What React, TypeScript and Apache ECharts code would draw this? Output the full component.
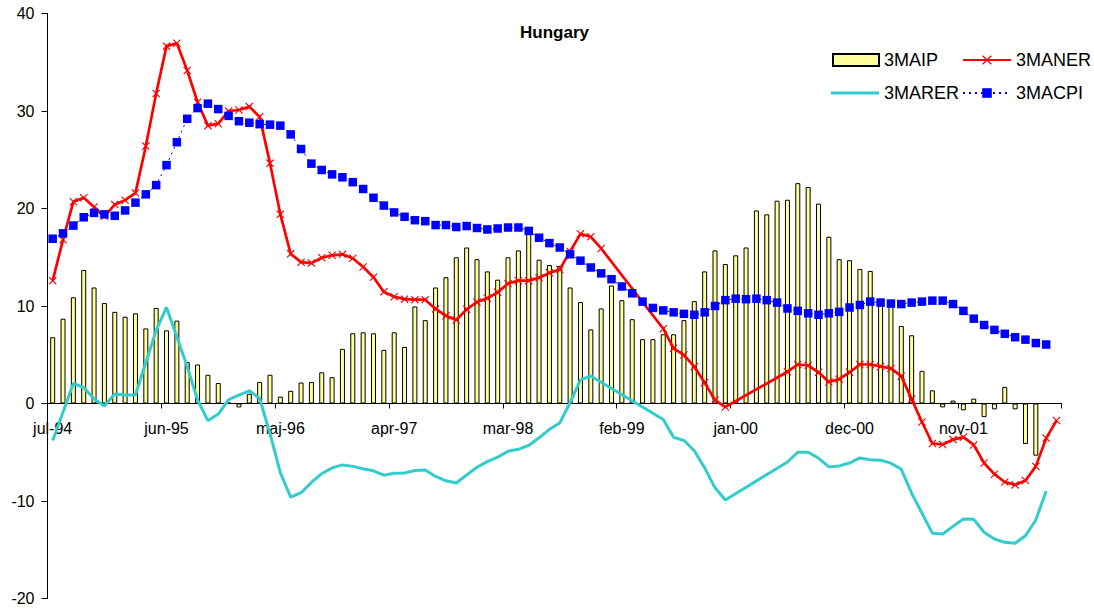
import React, { useEffect, useRef } from 'react';
import * as echarts from 'echarts';

const categories = [
  'jul-94', 'aug-94', 'sep-94', 'okt-94', 'nov-94', 'dec-94',
  'jan-95', 'feb-95', 'mar-95', 'apr-95', 'maj-95', 'jun-95', 'jul-95', 'aug-95', 'sep-95', 'okt-95', 'nov-95', 'dec-95',
  'jan-96', 'feb-96', 'mar-96', 'apr-96', 'maj-96', 'jun-96', 'jul-96', 'aug-96', 'sep-96', 'okt-96', 'nov-96', 'dec-96',
  'jan-97', 'feb-97', 'mar-97', 'apr-97', 'maj-97', 'jun-97', 'jul-97', 'aug-97', 'sep-97', 'okt-97', 'nov-97', 'dec-97',
  'jan-98', 'feb-98', 'mar-98', 'apr-98', 'maj-98', 'jun-98', 'jul-98', 'aug-98', 'sep-98', 'okt-98', 'nov-98', 'dec-98',
  'jan-99', 'feb-99', 'mar-99', 'apr-99', 'maj-99', 'jun-99', 'jul-99', 'aug-99', 'sep-99', 'okt-99', 'nov-99', 'dec-99',
  'jan-00', 'feb-00', 'mar-00', 'apr-00', 'maj-00', 'jun-00', 'jul-00', 'aug-00', 'sep-00', 'okt-00', 'nov-00', 'dec-00',
  'jan-01', 'feb-01', 'mar-01', 'apr-01', 'maj-01', 'jun-01', 'jul-01', 'aug-01', 'sep-01', 'okt-01', 'nov-01', 'dec-01',
  'jan-02', 'feb-02', 'mar-02', 'apr-02', 'maj-02', 'jun-02', 'jul-02', 'aug-02',
];

const ip = [
  6.8, 8.7, 10.9, 13.7, 11.9, 10.3, 9.4, 8.9, 9.25, 7.7,
  9.8, 7.5, 8.5, 4.25, 4.0, 2.95, 2.1, 0.1, -0.4, 1.0,
  2.2, 2.95, 0.7, 1.3, 2.15, 2.2, 3.2, 2.7, 5.6, 7.2,
  7.3, 7.2, 5.5, 7.3, 5.8, 9.95, 8.55, 11.9, 12.95, 15.0,
  16.0, 14.8, 13.55, 12.7, 15.0, 15.7, 17.4, 14.75, 14.2, 14.1,
  11.9, 10.4, 7.6, 9.75, 12.1, 10.6, 8.65, 6.6, 6.6, 7.1,
  7.1, 8.55, 10.5, 13.55, 15.7, 14.3, 15.2, 16.0, 19.8, 19.4,
  20.8, 20.9, 22.6, 22.2, 20.5, 17.1, 14.8, 14.7, 13.8, 13.6,
  10.6, 10.3, 7.95, 7.0, 3.35, 1.35, -0.4, 0.3, -0.7, 0.5,
  -1.4, -0.6, 1.7, -0.6, -4.15, -5.35, null, null,
];

const ner = [
  12.6, 16.8, 20.7, 21.1, 20.15, 19.2, 20.4, 20.85, 21.6, 26.4,
  31.8, 36.65, 36.95, 34.15, 30.9, 28.5, 28.7, 30.0, 30.1, 30.45,
  29.4, 24.65, 19.4, 15.35, 14.5, 14.4, 14.95, 15.2, 15.3, 14.9,
  14.0, 12.95, 11.45, 10.95, 10.7, 10.65, 10.65, 9.7, 9.0, 8.56,
  9.66, 10.4, 10.8, 11.4, 12.3, 12.6, 12.6, 12.9, 13.4, 13.75,
  15.6, 17.4, 17.1, 15.9, null, null, null, null, null, 7.67,
  5.66, 4.97, 3.78, 2.14, 0.35, -0.36, null, null, null, null,
  null, 3.26, 4.0, 3.9, 3.2, 2.2, 2.5, 3.2, 4.0, 4.0,
  3.8, 3.6, 2.8, 0.45, -1.9, -4.1, -4.2, -3.7, -3.45, -4.25,
  -6.1, -7.25, -8.05, -8.35, -7.9, -6.45, -3.55, -1.75,
];

const rer = [
  -3.8, -0.9, 2.05, 1.65, 0.45, -0.26, 0.97, 0.87, 0.87, 4.2,
  7.5, 9.85, 6.85, 3.8, 0.36, -1.76, -1.08, 0.4, 0.87, 1.3,
  0.53, -3.1, -7.1, -9.6, -9.15, -8.1, -7.2, -6.6, -6.3, -6.45,
  -6.7, -6.9, -7.35, -7.16, -7.13, -6.88, -6.83, -7.48, -7.93, -8.15,
  -7.33, -6.54, -5.96, -5.5, -4.9, -4.7, -4.3, -3.52, -2.65, -2.0,
  0.1, 2.42, 2.82, null, null, null, null, null, null, -1.65,
  -3.47, -3.8, -4.85, -6.6, -8.65, -9.9, null, null, null, null,
  null, -6.0, -5.0, -5.0, -5.6, -6.5, -6.4, -6.1, -5.58, -5.76,
  -5.82, -6.12, -6.75, -9.2, -11.26, -13.3, -13.38, -12.6, -11.85, -11.88,
  -13.2, -13.9, -14.24, -14.34, -13.56, -11.95, -8.97, null,
];

const cpi = [
  16.9, 17.45, 18.25, 19.1, 19.55, 19.4, 19.25, 19.8, 20.6, 21.45,
  22.4, 24.45, 26.8, 29.2, 30.3, 30.75, 30.2, 29.5, 28.95, 28.8,
  28.65, 28.6, 28.5, 27.6, 26.1, 24.6, 23.95, 23.5, 23.2, 22.7,
  22.0, 21.1, 20.3, 19.6, 19.15, 18.8, 18.7, 18.3, 18.3, 18.1,
  18.2, 18.0, 17.85, 17.95, 18.05, 18.05, 17.7, 17.0, 16.45, 16.0,
  15.3, 14.65, 13.95, 13.35, 12.75, 12.0, 11.3, 10.45, 9.8, 9.55,
  9.35, 9.2, 9.1, 9.35, 10.0, 10.6, 10.75, 10.7, 10.75, 10.6,
  10.35, 9.75, 9.5, 9.25, 9.1, 9.25, 9.4, 9.85, 10.1, 10.45,
  10.35, 10.25, 10.2, 10.35, 10.45, 10.55, 10.55, 10.2, 9.5, 8.7,
  8.05, 7.55, 7.15, 6.8, 6.55, 6.2, 6.05, null,
];

const FONT = 'Liberation Sans, Arial, sans-serif';
const X_SYMBOL = 'path://M0,1L1,0L5,4L9,0L10,1L6,5L10,9L9,10L5,6L1,10L0,9L4,5Z';

// grid geometry (px)
const GRID_TOP = 13.5;
const GRID_BOTTOM = 15.5;
const CHART_H = 614;
const Y_MIN = -20;
const Y_MAX = 40;

export default function App() {
  const ref = useRef<HTMLDivElement>(null);

  useEffect(() => {
    if (!ref.current) return;
    const chart = echarts.init(ref.current, null, { renderer: 'svg' });
    const legendText = { fontFamily: FONT, fontSize: 18, color: '#000' };
    const plotH = CHART_H - GRID_TOP - GRID_BOTTOM;
    const zeroOffset = -(plotH * (0 - Y_MIN)) / (Y_MAX - Y_MIN);
    chart.setOption({
      animation: false,
      backgroundColor: '#ffffff',
      title: {
        text: 'Hungary',
        left: 520,
        top: 24,
        padding: 0,
        textStyle: { fontFamily: FONT, fontSize: 17, fontWeight: 'bold', color: '#000' },
      },
      legend: [
        { data: ['3MAIP'], left: 832, top: 51, padding: 0, itemWidth: 46, itemHeight: 12, icon: 'rect', textStyle: legendText },
        { data: ['3MANER'], left: 962, top: 51, padding: 0, itemWidth: 48, itemHeight: 12, textStyle: legendText },
        {
          data: ['3MARER'], left: 831, top: 84, padding: 0, itemWidth: 48, itemHeight: 3, icon: 'rect',
          itemStyle: { color: '#33CCCC' }, textStyle: legendText,
        },
        { data: ['3MACPI'], left: 962, top: 84, padding: 0, itemWidth: 48, itemHeight: 12, textStyle: legendText },
      ],
      grid: { left: 47.5, right: 32.3, top: GRID_TOP, bottom: GRID_BOTTOM, containLabel: false, outerBoundsMode: 'none' },
      xAxis: {
        type: 'category',
        data: categories,
        boundaryGap: true,
        position: 'bottom',
        offset: zeroOffset,
        axisLine: { onZero: false, lineStyle: { color: '#000', width: 1 } },
        axisTick: { show: true, interval: 10, length: 5, lineStyle: { color: '#000' } },
        axisLabel: { interval: 10, margin: 17, fontFamily: FONT, fontSize: 16, color: '#000' },
        splitLine: { show: false },
      },
      yAxis: {
        type: 'value',
        min: Y_MIN,
        max: Y_MAX,
        interval: 10,
        axisLine: { show: true, lineStyle: { color: '#000', width: 1 } },
        axisTick: { show: true, length: 6, lineStyle: { color: '#000' } },
        axisLabel: { margin: 13, fontFamily: FONT, fontSize: 16, color: '#000' },
        splitLine: { show: false },
      },
      series: [
        {
          name: '3MAIP',
          type: 'bar',
          data: ip,
          barWidth: 5,
          itemStyle: { color: '#FFFF99', borderColor: '#000000', borderWidth: 1 },
        },
        {
          name: '3MANER',
          type: 'line',
          data: ner,
          connectNulls: true,
          color: '#FF0000',
          symbol: X_SYMBOL,
          symbolSize: 8,
          showAllSymbol: true,
          itemStyle: { color: '#FF0000' },
          lineStyle: { color: '#FF0000', width: 2.7 },
        },
        {
          name: '3MARER',
          type: 'line',
          data: rer,
          connectNulls: true,
          color: '#33CCCC',
          symbol: 'none',
          lineStyle: { color: '#33CCCC', width: 3 },
        },
        {
          name: '3MACPI',
          type: 'line',
          data: cpi,
          connectNulls: true,
          color: '#0000FF',
          symbol: 'rect',
          symbolSize: 8.5,
          showAllSymbol: true,
          itemStyle: { color: '#0000FF' },
          lineStyle: { color: '#0000FF', width: 1, type: [2, 4] },
        },
      ],
    });
    return () => chart.dispose();
  }, []);

  return (
    <div
      ref={ref}
      style={{ position: 'absolute', left: 0, top: 0, width: 1094, height: 614, background: '#fff' }}
    />
  );
}
